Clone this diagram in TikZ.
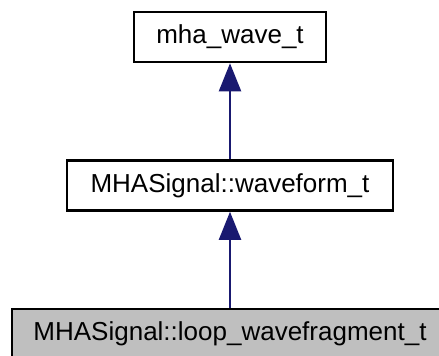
\documentclass[tikz,border=0pt]{standalone}
\usepackage{fontspec}
\setmainfont{Liberation Sans}
\usetikzlibrary{arrows.meta}
\definecolor{navyarr}{HTML}{191970}
\definecolor{boxgray}{HTML}{BFBFBF}
\tikzset{
  cls/.style={draw=black, line width=2.5pt, minimum height=50pt, inner sep=0pt, font=\fontsize{26}{30}\selectfont},
  inh/.style={draw=navyarr, line width=2pt, -{Triangle[length=28pt,width=22pt]}}
}
\begin{document}
\begin{tikzpicture}[x=1pt,y=1pt]
\useasboundingbox (0,0) rectangle (439,-356);
\clip (0,0) rectangle (439,-356);
\node[cls, minimum width=192pt] (top) at (230,-37) {mha\_wave\_t};
\node[cls, minimum width=326pt] (mid) at (230,-185.5) {MHASignal::waveform\_t};
\node[cls, fill=boxgray, minimum width=436pt] (bot) at (230,-334) {MHASignal::loop\_wavefragment\_t};
\draw[inh] (mid.north) -- (top.south);
\draw[inh] (bot.north) -- (mid.south);
\end{tikzpicture}
\end{document}
